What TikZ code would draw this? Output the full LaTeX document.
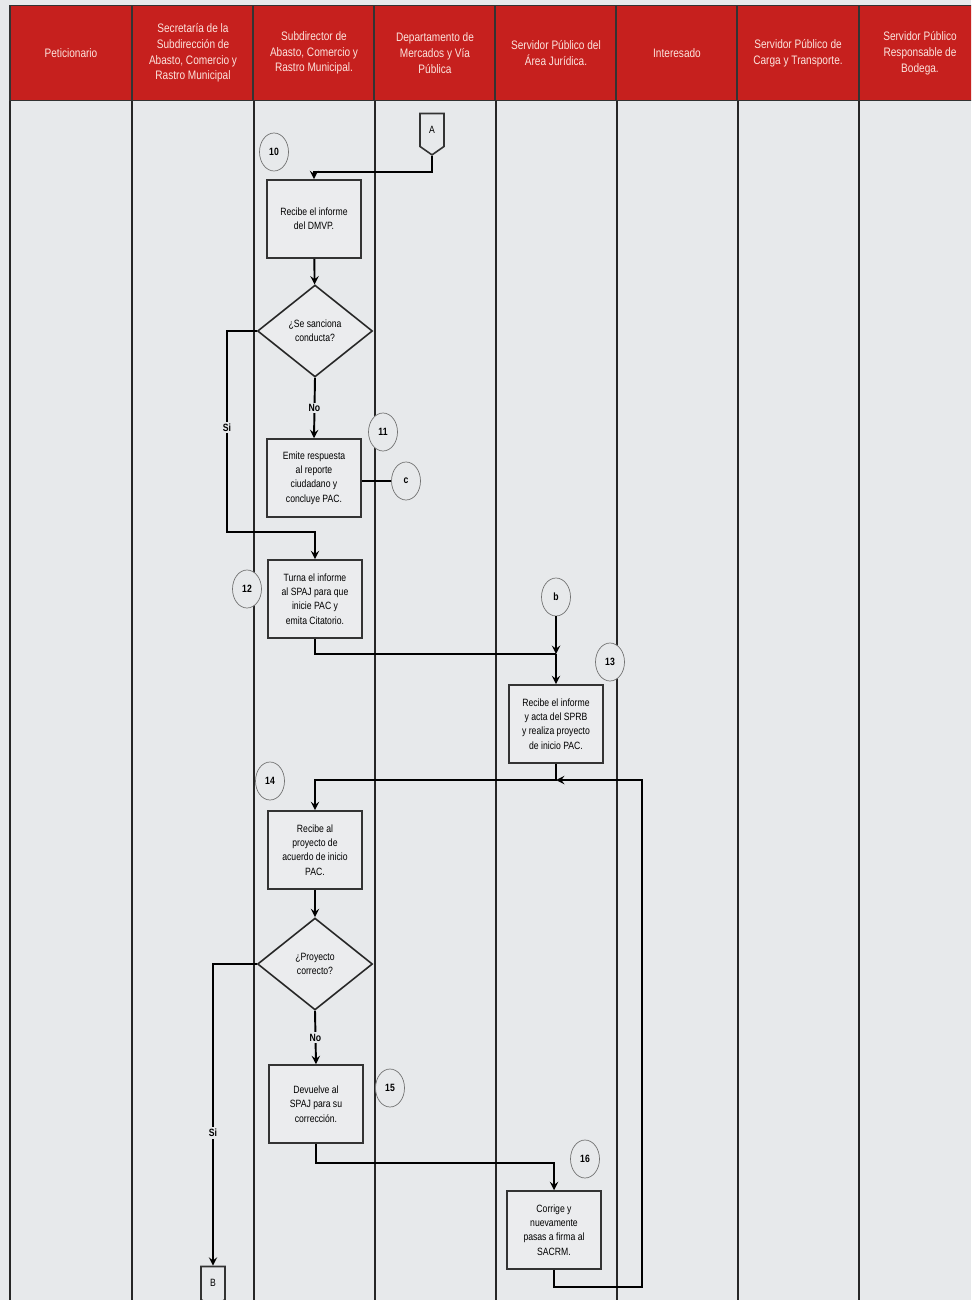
\documentclass[tikz,border=0pt]{standalone}
\usepackage{fontspec}
\setmainfont{Liberation Sans}[FakeStretch=0.82]
\usepackage{tikz}
\usetikzlibrary{shapes.geometric, shapes.symbols, arrows}
\definecolor{headred}{RGB}{198,32,30}
\definecolor{headtext}{RGB}{252,228,222}
\definecolor{paper}{RGB}{231,233,235}
\definecolor{boxgray}{RGB}{235,236,238}
\tikzstyle{lanehead} = [rectangle, minimum width=2.43cm, minimum height=1.9cm, inner sep=1pt, text centered, align=center, draw=black!80, line width=1pt, fill=headred, text=headtext, font=\fontsize{7}{9}\selectfont]
\tikzstyle{procbox} = [rectangle, minimum width=1.88cm, minimum height=1.56cm, inner sep=1pt, align=center, draw=black!80, line width=0.9pt, fill=boxgray, font=\fontsize{6}{8.2}\selectfont]
\tikzstyle{decision} = [diamond, aspect=1.25, minimum width=2.3cm, minimum height=1.84cm, inner sep=0pt, align=center, draw=black!85, line width=0.9pt, fill=boxgray, font=\fontsize{6}{8.2}\selectfont]
\tikzstyle{stepnum} = [ellipse, minimum width=0.58cm, minimum height=0.76cm, inner sep=0pt, draw=black!55, fill=paper, font=\fontsize{6}{7}\selectfont\bfseries]
\tikzstyle{offpage} = [signal, signal to=south, signal pointer angle=110, minimum width=0.48cm, minimum height=0.7cm, inner sep=0pt, draw=black!80, line width=0.9pt, fill=paper, font=\fontsize{6}{7}\selectfont]
\tikzstyle{arrow} = [line width=1.1pt, ->, >=stealth]
\tikzstyle{plainline} = [line width=1.1pt]
\tikzstyle{laneline} = [line width=1pt, black!85]
\tikzstyle{answer} = [fill=paper, inner sep=1pt, font=\fontsize{6}{7}\selectfont\bfseries]

\begin{document}
\begin{tikzpicture}[x=0.02cm, y=-0.02cm]
    \clip (0,0) rectangle (971,1300);
    \fill [paper] (0,0) rectangle (971,1300);

    % lanes
    \foreach \x in {10,132,254,375,496,617,738,859}
        \draw [laneline] (\x,100) -- (\x,1300);

    \node (h1) [lanehead] at (71,53) {Peticionario};
    \node (h2) [lanehead] at (193,53) {Secretaría de la\\ Subdirección de\\ Abasto, Comercio y\\ Rastro Municipal};
    \node (h3) [lanehead] at (314,53) {Subdirector de\\ Abasto, Comercio y\\ Rastro Municipal.};
    \node (h4) [lanehead] at (435,53) {Departamento de\\ Mercados y Vía\\ Pública};
    \node (h5) [lanehead] at (556,53) {Servidor Público del\\ Área Jurídica.};
    \node (h6) [lanehead] at (677,53) {Interesado};
    \node (h7) [lanehead] at (798,53) {Servidor Público de\\ Carga y Transporte.};
    \node (h8) [lanehead] at (920,53) {Servidor Público\\ Responsable de\\ Bodega.};

    % steps 10 - 13
    \node (conA) [offpage] at (432,130) {A};
    \node (n10) [stepnum] at (274,152) {10};
    \node (rec10) [procbox] at (314,219) {Recibe el informe\\ del DMVP.};
    \node (dec1) [decision] at (315,331) {¿Se sanciona\\ conducta?};
    \node (emite) [procbox] at (314,478) {Emite respuesta\\ al reporte\\ ciudadano y\\ concluye PAC.};
    \node (n11) [stepnum] at (383,432) {11};
    \node (conc) [stepnum] at (406,481) {c};
    \node (turna) [procbox] at (315,599) {Turna el informe\\ al SPAJ para que\\ inicie PAC y\\ emita Citatorio.};
    \node (n12) [stepnum] at (247,589) {12};
    \node (conb) [stepnum] at (556,597) {b};
    \node (n13) [stepnum] at (610,662) {13};
    \node (sprb) [procbox] at (556,724) {Recibe el informe\\ y acta del SPRB\\ y realiza proyecto\\ de inicio PAC.};

    % steps 14 - 16
    \node (n14) [stepnum] at (270,781) {14};
    \node (rec14) [procbox] at (315,850) {Recibe al\\ proyecto de\\ acuerdo de inicio\\ PAC.};
    \node (dec2) [decision] at (315,964) {¿Proyecto\\ correcto?};
    \node (dev15) [procbox] at (316,1104) {Devuelve al\\ SPAJ para su\\ corrección.};
    \node (n15) [stepnum] at (390,1088) {15};
    \node (n16) [stepnum] at (585,1159) {16};
    \node (cor16) [procbox] at (554,1230) {Corrige y\\ nuevamente\\ pasas a firma al\\ SACRM.};
    \node (conB) [offpage] at (213,1283) {B};

    \coordinate (si1) at (227,532);
    \coordinate (jb) at (556,654);
    \coordinate (jm) at (556,780);
    \coordinate (retlow) at (642,1287);
    \coordinate (retup) at (642,780);

    \draw [arrow] (conA.south) -- ++(0,16) -| (rec10.north);
    \draw [arrow] (rec10) -- (dec1);
    \draw [arrow] (dec1.south) -- node [answer] {No} (emite.north);
    \draw [arrow] (dec1.west) -| node [answer, pos=0.74] {Si} (si1) -| (turna.north);
    \draw [plainline] (emite.east |- conc) -- (conc.west);
    \draw [plainline] (turna.south) |- (jb);
    \draw [arrow] (conb.south) -- (jb);
    \draw [arrow] (jb) -- (sprb.north);
    \draw [arrow] (sprb.south) -- (jm) -| (rec14.north);
    \draw [arrow] (rec14) -- (dec2);
    \draw [arrow] (dec2.south) -- node [answer] {No} (dev15.north);
    \draw [arrow] (dec2.west) -| node [answer, pos=0.78] {Si} (conB.north);
    \draw [arrow] (dev15.south) -- ++(0,19) -| (cor16.north);
    \draw [arrow] (cor16.south) |- (retlow) -- (retup) -- (jm);
  \end{tikzpicture}
\end{document}
